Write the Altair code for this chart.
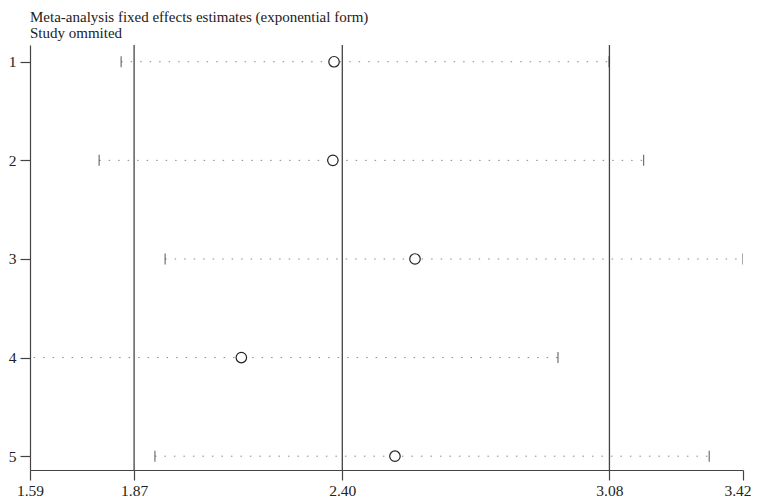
import altair as alt
import pandas as pd

studies = [1, 2, 3, 4, 5]
estimate = [2.379, 2.376, 2.585, 2.143, 2.534]
lower = [1.837, 1.781, 1.949, 1.590, 1.923]
upper = [3.079, 3.167, 3.420, 2.949, 3.334]

ref_lines = [1.87, 2.40, 3.08]
tick_values = [1.605, 1.87, 2.40, 3.08, 3.42]
tick_labels = ["1.59", "1.87", "2.40", "3.08", "3.42"]

title_text = "Meta-analysis fixed effects estimates (exponential form)"
subtitle_text = "Study ommited"

df = pd.DataFrame({"study": studies, "est": estimate, "lo": lower, "hi": upper})
refs = pd.DataFrame({"v": ref_lines})

FONT = "Liberation Serif"
xdom = [tick_values[0], tick_values[-1]]
xscale = alt.Scale(domain=xdom, nice=False, zero=False)
yscale = alt.Scale(domain=[0.83, 5.14], reverse=True, nice=False, zero=False)

vals_js = "[" + ",".join(str(v) for v in tick_values) + "]"
labs_js = "[" + ",".join("'" + s + "'" for s in tick_labels) + "]"
label_expr = f"{labs_js}[indexof({vals_js}, datum.value)]"
last_test = f"datum.value >= {tick_values[-1]}"

xaxis = alt.Axis(values=tick_values, labelExpr=label_expr, title=None, grid=False,
                 tickSize=10, labelPadding=3, labelFont=FONT, labelFontSize=15.5,
                 labelColor="#222", domainColor="#444", tickColor="#444",
                 domainWidth=1.2, tickWidth=1.2, labelFlush=False,
                 labelAlign={"condition": {"test": last_test, "value": "right"}, "value": "center"},
                 labelOffset={"condition": {"test": last_test, "value": 8}, "value": 0})
yaxis = alt.Axis(values=studies, format="d", title=None, grid=False, tickSize=10,
                 labelPadding=4, labelFont=FONT, labelFontSize=15.5, labelColor="#222",
                 domainColor="#444", tickColor="#444", domainWidth=1.2, tickWidth=1.2)

base = alt.Chart(df)

ci = base.mark_rule(color="#888", strokeDash=[1.5, 8], strokeWidth=1, clip=True).encode(
    x=alt.X("lo:Q", scale=xscale, axis=xaxis),
    x2="hi:Q",
    y=alt.Y("study:Q", scale=yscale, axis=yaxis),
)

cap_lo = base.mark_tick(color="#333", thickness=1.2, size=11, orient="vertical", clip=True).encode(
    x=alt.X("lo:Q", scale=xscale), y=alt.Y("study:Q", scale=yscale))
cap_hi = base.mark_tick(color="#333", thickness=1.2, size=11, orient="vertical", clip=True).encode(
    x=alt.X("hi:Q", scale=xscale), y=alt.Y("study:Q", scale=yscale))

vlines = alt.Chart(refs).mark_rule(color="#444", strokeWidth=1.3).encode(
    x=alt.X("v:Q", scale=xscale))

pts = base.mark_point(shape="circle", size=110, filled=False, fill="white", fillOpacity=1,
                      stroke="#222", strokeWidth=1.2, opacity=1).encode(
    x=alt.X("est:Q", scale=xscale), y=alt.Y("study:Q", scale=yscale))

chart = alt.layer(vlines, ci, cap_lo, cap_hi, pts).properties(
    width=713, height=425,
    background="white",
    autosize=alt.AutoSizeParams(type="none"),
    padding={"left": 22, "top": 37, "right": 8, "bottom": 28},
    title=alt.Title(text=title_text, subtitle=subtitle_text, anchor="start", frame="group",
                    font=FONT, fontSize=15, fontWeight="normal", color="#222",
                    subtitleFont=FONT, subtitleFontSize=15, subtitleColor="#222",
                    subtitlePadding=1, offset=3),
).configure_view(stroke=None, strokeWidth=0)

chart.save("out.html", embed_options={"renderer": "svg", "actions": False})
